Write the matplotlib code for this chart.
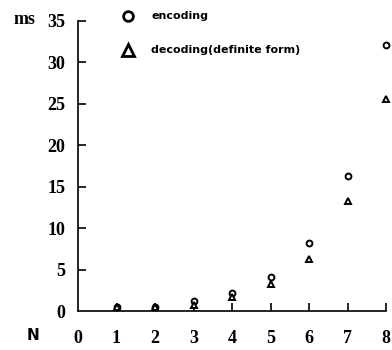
import matplotlib
matplotlib.use('Agg')
import matplotlib.pyplot as plt
from matplotlib.lines import Line2D

# data
n = [1, 2, 3, 4, 5, 6, 7, 8]
encoding = [0.5, 0.5, 1.2, 2.2, 4.1, 8.2, 16.3, 32.1]
decoding = [0.5, 0.5, 0.7, 1.7, 3.3, 6.3, 13.3, 25.6]
xticks = [0, 1, 2, 3, 4, 5, 6, 7, 8]
yticks = [0, 5, 10, 15, 20, 25, 30, 35]

fig = plt.figure(figsize=(3.92, 3.5), dpi=100)
ax = fig.add_axes([78/392, 1-311/350, 308/392, 290.3/350])

ax.plot(n, encoding, 'o', ms=4.2, mfc='white', mec='black', mew=1.4, clip_on=False)
ax.plot(n, decoding, '^', ms=4.2, mfc='white', mec='black', mew=1.4, clip_on=False)

ax.set_xlim(0, 8)
ax.set_ylim(0, 35)
ax.spines['top'].set_visible(False)
ax.spines['right'].set_visible(False)
ax.spines['left'].set_linewidth(1.2)
ax.spines['bottom'].set_linewidth(1.2)

ax.set_xticks(xticks)
ax.set_yticks(yticks)
serif = {'family': 'Liberation Serif', 'weight': 'bold', 'size': 13}
ax.set_xticklabels([str(v) for v in xticks], fontdict=serif)
ax.set_yticklabels([str(v) for v in yticks], fontdict=serif)
ax.tick_params(axis='x', direction='in', length=6, width=1.2, pad=14)
ax.tick_params(axis='y', direction='in', length=6, width=1.2, pad=9)
# no tick mark at the origin
ax.xaxis.get_major_ticks()[0].tick1line.set_visible(False)
ax.yaxis.get_major_ticks()[0].tick1line.set_visible(False)

fig.text(14/392, 1-20/350, 'ms', fontdict=serif, va='center', ha='left')
fig.text(27/392, 1-335/350, 'N', family='DejaVu Sans', weight='bold', size=11,
         va='center', ha='left')

# legend drawn by hand
fig.add_artist(Line2D([128/392], [1-16/350], marker='o', ms=7, mfc='white',
                      mec='black', mew=2, transform=fig.transFigure))
fig.add_artist(Line2D([128/392], [1-50/350], marker='^', ms=8, mfc='white',
                      mec='black', mew=2, transform=fig.transFigure))
fig.text(151/392, 1-16/350, 'encoding', family='DejaVu Sans', weight='bold',
         size=8, va='center')
fig.text(151/392, 1-50/350, 'decoding(definite form)', family='DejaVu Sans',
         weight='bold', size=8, va='center')

fig.savefig('out.png', dpi=100)
